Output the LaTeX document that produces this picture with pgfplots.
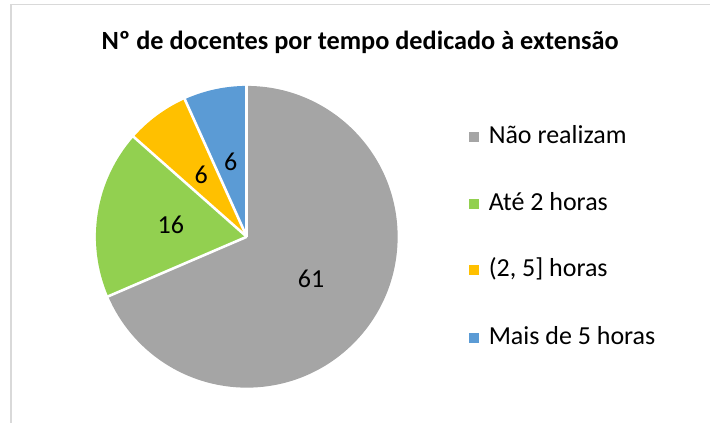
\documentclass[border=0pt]{standalone}
\usepackage{fontspec}
\setmainfont{Carlito}
\usepackage{pgfplots}
\pgfplotsset{compat=1.18}
\usetikzlibrary{calc}
\definecolor{piegray}{HTML}{A5A5A5}
\definecolor{piegreen}{HTML}{92D050}
\definecolor{pieyellow}{HTML}{FFC000}
\definecolor{pieblue}{HTML}{5B9BD5}
\definecolor{frame}{HTML}{D9D9D9}
% data
\def\vA{61}\def\vB{16}\def\vC{6}\def\vD{6}
\pgfmathsetmacro\tot{\vA+\vB+\vC+\vD}
\pgfmathsetmacro\aA{90}
\pgfmathsetmacro\aB{\aA-360/\tot*\vA}
\pgfmathsetmacro\aC{\aB-360/\tot*\vB}
\pgfmathsetmacro\aD{\aC-360/\tot*\vC}
\pgfmathsetmacro\aE{\aD-360/\tot*\vD}
\pgfmathsetmacro\mA{(\aA+\aB)/2}
\pgfmathsetmacro\mB{(\aB+\aC)/2}
\pgfmathsetmacro\mC{(\aC+\aD)/2}
\pgfmathsetmacro\mD{(\aD+\aE)/2}
\def\cx{247}\def\cy{186}\def\R{151}
\begin{document}
\begin{tikzpicture}
\begin{axis}[
  scale only axis, width=711pt, height=423pt,
  xmin=0, xmax=711, ymin=0, ymax=423,
  enlargelimits=false, hide axis, clip=false,
  font=\fontsize{26}{30}\selectfont]
  % frame
  \draw[frame, line width=1.3pt] (axis cs:11,0) -- (axis cs:11,418.5) -- (axis cs:711,418.5);
  % title
  \node[anchor=base, font=\fontsize{26.3}{30}\selectfont\bfseries] at (axis cs:360.5,373.5) {Nº de docentes por tempo dedicado à extensão};
  % slices
  \fill[piegray]   (axis cs:\cx,\cy) -- ++(\aA:\R pt) arc[start angle=\aA, end angle=\aB, radius=\R pt] -- cycle;
  \fill[piegreen]  (axis cs:\cx,\cy) -- ++(\aB:\R pt) arc[start angle=\aB, end angle=\aC, radius=\R pt] -- cycle;
  \fill[pieyellow] (axis cs:\cx,\cy) -- ++(\aC:\R pt) arc[start angle=\aC, end angle=\aD, radius=\R pt] -- cycle;
  \fill[pieblue]   (axis cs:\cx,\cy) -- ++(\aD:\R pt) arc[start angle=\aD, end angle=\aE, radius=\R pt] -- cycle;
  % separators
  \draw[white, line width=2.6pt] (axis cs:\cx,\cy) -- ++(\aA:\R pt+1pt);
  \draw[white, line width=2.6pt] (axis cs:\cx,\cy) -- ++(\aB:\R pt+1pt);
  \draw[white, line width=2.6pt] (axis cs:\cx,\cy) -- ++(\aC:\R pt+1pt);
  \draw[white, line width=2.6pt] (axis cs:\cx,\cy) -- ++(\aD:\R pt+1pt);
  % labels
  \node at ($(axis cs:\cx,\cy)+(\mA:0.51*\R pt)$) {\vA};
  \node at ($(axis cs:\cx,\cy)+(\mB:0.51*\R pt)$) {\vB};
  \node at ($(axis cs:\cx,\cy)+(\mC:0.51*\R pt)$) {\vC};
  \node at ($(axis cs:\cx,\cy)+(\mD:0.51*\R pt)$) {\vD};
  % legend
  \fill[piegray]   (axis cs:469,281) rectangle (axis cs:479,291);
  \fill[piegreen]  (axis cs:469,214) rectangle (axis cs:479,224);
  \fill[pieyellow] (axis cs:469,147.5) rectangle (axis cs:479,157.5);
  \fill[pieblue]   (axis cs:469,80) rectangle (axis cs:479,90);
  \node[anchor=base west, inner sep=0pt] at (axis cs:489,279.5) {Não realizam};
  \node[anchor=base west, inner sep=0pt] at (axis cs:489,212.5) {Até 2 horas};
  \node[anchor=base west, inner sep=0pt] at (axis cs:489,146) {(2, 5] horas};
  \node[anchor=base west, inner sep=0pt] at (axis cs:489,78.5) {Mais de 5 horas};
\end{axis}
\useasboundingbox (0,0) rectangle (711pt,423pt);
\end{tikzpicture}
\end{document}
